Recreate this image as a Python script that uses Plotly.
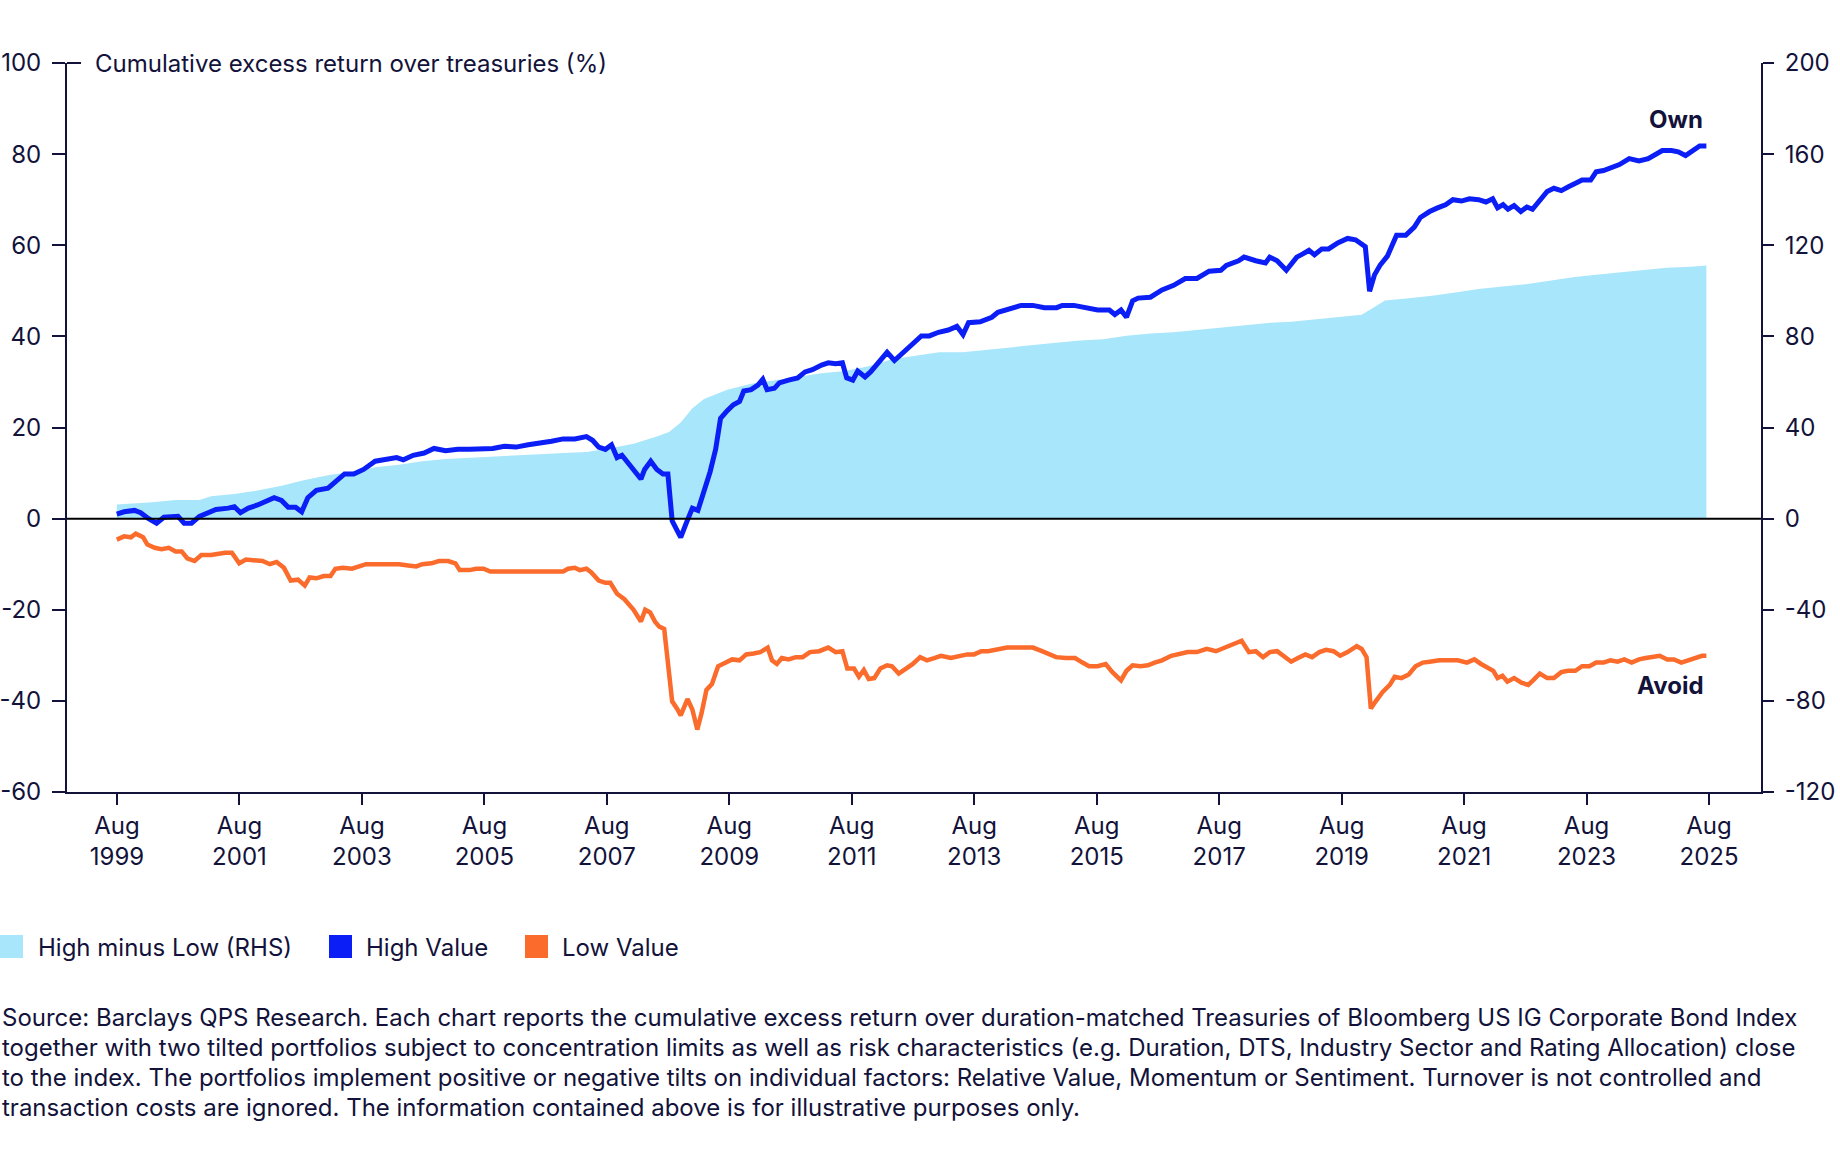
import plotly.graph_objects as go

# ---------------- data (decimal years, % values) ----------------
hv_t = [1999.58,1999.70,1999.87,1999.97,2000.10,2000.23,2000.35,2000.50,2000.58,2000.68,
        2000.80,2000.93,2001.04,2001.20,2001.40,2001.50,2001.60,2001.73,2001.88,2002.04,
        2002.15,2002.27,2002.38,2002.50,2002.60,2002.70,2002.84,2003.03,2003.15,2003.30,
        2003.45,2003.61,2003.80,2004.00,2004.15,2004.26,2004.42,2004.60,2004.76,2004.95,
        2005.15,2005.34,2005.53,2005.72,2005.91,2006.10,2006.30,2006.48,2006.68,2006.87,
        2007.06,2007.25,2007.35,2007.45,2007.56,2007.66,2007.75,2007.83,2008.02,2008.14,
        2008.20,2008.30,2008.40,2008.50,2008.58,2008.65,2008.73,2008.79,2008.88,2008.98,
        2009.07,2009.17,2009.27,2009.36,2009.44,2009.55,2009.65,2009.75,2009.82,2009.94,
        2010.05,2010.13,2010.20,2010.32,2010.40,2010.55,2010.70,2010.82,2010.94,2011.09,
        2011.20,2011.32,2011.43,2011.50,2011.60,2011.68,2011.80,2011.89,2012.05,2012.16,
        2012.28,2012.43,2012.62,2012.72,2012.85,2013.00,2013.16,2013.30,2013.40,2013.49,
        2013.68,2013.87,2013.97,2014.16,2014.35,2014.54,2014.73,2014.93,2015.02,2015.21,
        2015.40,2015.60,2015.79,2015.88,2015.98,2016.07,2016.17,2016.26,2016.46,2016.65,
        2016.84,2017.03,2017.22,2017.42,2017.61,2017.70,2017.90,2017.99,2018.18,2018.34,
        2018.41,2018.53,2018.68,2018.85,2018.95,2019.05,2019.14,2019.26,2019.37,2019.52,
        2019.68,2019.81,2019.97,2020.04,2020.12,2020.21,2020.33,2020.40,2020.48,2020.63,
        2020.77,2020.87,2021.02,2021.15,2021.28,2021.40,2021.54,2021.67,2021.82,2021.94,
        2022.05,2022.13,2022.22,2022.30,2022.40,2022.51,2022.61,2022.70,2022.82,2022.94,
        2023.05,2023.17,2023.28,2023.40,2023.51,2023.65,2023.74,2023.86,2023.97,2024.12,
        2024.28,2024.44,2024.59,2024.70,2024.82,2024.97,2025.08,2025.20,2025.31,2025.43,
        2025.54]
hv_v = [1.0,1.5,1.8,1.3,0.0,-1.0,0.3,0.3,0.5,-1.0,
        -1.0,0.5,1.0,2.0,2.3,2.6,1.3,2.3,3.0,4.0,
        4.6,4.0,2.5,2.5,1.5,4.6,6.2,6.7,8.2,9.8,
        9.8,10.8,12.6,12.9,13.4,12.9,13.9,14.4,15.4,14.9,
        15.2,15.2,15.2,15.4,15.9,15.7,16.2,16.5,17.0,17.5,
        17.5,18.0,17.2,15.7,15.2,16.2,13.4,13.9,10.8,8.7,
        10.8,12.6,10.8,9.8,9.8,-0.5,-2.6,-4.1,-1.0,2.3,
        1.8,6.2,10.3,15.2,22.0,23.7,25.0,25.7,28.0,28.3,
        29.3,30.6,28.3,28.6,29.8,30.4,30.9,32.2,32.7,33.7,
        34.2,34.0,34.2,30.9,30.4,32.4,31.1,32.2,35.0,36.5,
        34.7,36.5,38.6,40.1,40.1,40.9,41.4,42.2,40.4,43.0,
        43.2,44.2,45.3,46.0,46.8,46.8,46.3,46.3,46.8,46.8,
        46.3,45.8,45.8,44.8,45.8,44.2,47.8,48.4,48.6,50.2,
        51.2,52.7,52.7,54.3,54.5,55.6,56.6,57.4,56.6,56.1,
        57.4,56.6,54.5,57.4,58.1,58.9,57.9,59.2,59.2,60.5,
        61.5,61.2,59.7,49.9,53.5,55.6,57.6,59.9,62.2,62.2,
        64.0,66.1,67.4,68.2,68.9,70.0,69.7,70.2,70.0,69.5,
        70.2,68.2,68.9,67.9,68.7,67.4,68.4,67.9,69.7,71.8,
        72.5,72.0,72.8,73.6,74.3,74.3,76.1,76.4,76.9,77.7,
        79.0,78.5,79.0,80.0,80.8,80.8,80.5,79.7,80.8,81.8,
        81.8]

lv_t = [1999.58,1999.70,1999.81,1999.89,2000.01,2000.08,2000.20,2000.31,2000.43,2000.54,
        2000.64,2000.73,2000.85,2000.96,2001.12,2001.23,2001.35,2001.46,2001.58,2001.69,
        2001.85,2001.96,2002.08,2002.19,2002.31,2002.42,2002.54,2002.65,2002.73,2002.84,
        2002.96,2003.07,2003.15,2003.27,2003.42,2003.53,2003.65,2003.80,2003.99,2004.19,
        2004.34,2004.47,2004.57,2004.72,2004.84,2004.99,2005.11,2005.18,2005.34,2005.45,
        2005.57,2005.68,2005.91,2006.29,2006.68,2006.87,2006.95,2007.06,2007.14,2007.25,
        2007.33,2007.45,2007.56,2007.64,2007.75,2007.87,2008.02,2008.14,2008.21,2008.29,
        2008.37,2008.44,2008.52,2008.60,2008.65,2008.73,2008.79,2008.90,2008.98,2009.06,
        2009.13,2009.21,2009.30,2009.40,2009.52,2009.63,2009.75,2009.86,2009.98,2010.09,
        2010.21,2010.28,2010.36,2010.44,2010.55,2010.67,2010.78,2010.90,2011.05,2011.20,
        2011.32,2011.43,2011.51,2011.62,2011.70,2011.78,2011.86,2011.95,2012.05,2012.16,
        2012.24,2012.35,2012.47,2012.58,2012.70,2012.81,2012.93,2013.04,2013.20,2013.35,
        2013.47,2013.58,2013.70,2013.81,2013.97,2014.12,2014.35,2014.54,2014.69,2014.81,
        2014.92,2015.08,2015.23,2015.35,2015.46,2015.60,2015.73,2015.84,2015.98,2016.07,
        2016.17,2016.30,2016.42,2016.53,2016.65,2016.80,2016.94,2017.07,2017.22,2017.38,
        2017.53,2017.68,2017.80,2017.95,2018.07,2018.18,2018.30,2018.41,2018.53,2018.64,
        2018.76,2018.87,2018.99,2019.10,2019.22,2019.33,2019.45,2019.56,2019.68,2019.83,
        2019.91,2019.99,2020.06,2020.14,2020.25,2020.37,2020.45,2020.56,2020.68,2020.79,
        2020.91,2021.02,2021.18,2021.33,2021.48,2021.63,2021.75,2021.86,2021.98,2022.06,
        2022.13,2022.21,2022.29,2022.40,2022.52,2022.63,2022.71,2022.82,2022.94,2023.05,
        2023.17,2023.28,2023.40,2023.51,2023.63,2023.74,2023.86,2023.97,2024.09,2024.20,
        2024.32,2024.44,2024.55,2024.67,2024.78,2024.90,2025.01,2025.13,2025.24,2025.36,
        2025.47,2025.54]
lv_v = [-4.6,-3.9,-4.1,-3.3,-4.1,-5.7,-6.4,-6.7,-6.4,-7.2,
        -7.2,-8.7,-9.3,-8.0,-8.0,-7.7,-7.5,-7.5,-9.8,-9.0,
        -9.3,-9.3,-10.0,-9.5,-10.8,-13.6,-13.4,-14.7,-12.9,-13.1,
        -12.6,-12.6,-11.0,-10.8,-11.0,-10.5,-10.0,-10.0,-10.0,-10.0,
        -10.3,-10.5,-10.0,-9.8,-9.3,-9.3,-9.8,-11.3,-11.3,-11.0,
        -11.0,-11.6,-11.6,-11.6,-11.6,-11.6,-11.0,-10.8,-11.3,-11.0,
        -11.8,-13.6,-14.1,-14.1,-16.5,-17.7,-20.0,-22.6,-20.0,-20.6,
        -22.6,-23.7,-24.2,-35.5,-40.1,-41.7,-43.2,-39.6,-41.9,-46.3,
        -42.7,-37.6,-36.3,-32.4,-31.6,-30.9,-31.1,-29.8,-29.6,-29.3,
        -28.3,-31.1,-31.9,-30.6,-30.9,-30.4,-30.4,-29.3,-29.1,-28.3,
        -29.3,-29.1,-32.9,-32.9,-34.7,-33.2,-35.2,-35.0,-32.9,-32.2,
        -32.4,-34.0,-32.9,-31.9,-30.4,-31.1,-30.6,-30.1,-30.6,-30.1,
        -29.8,-29.8,-29.1,-29.1,-28.6,-28.3,-28.3,-28.3,-29.1,-29.8,
        -30.4,-30.6,-30.6,-31.6,-32.4,-32.4,-31.9,-33.7,-35.5,-33.4,
        -32.2,-32.4,-32.2,-31.6,-31.1,-30.1,-29.8,-29.3,-29.3,-28.6,
        -29.1,-28.3,-27.8,-26.8,-29.3,-29.1,-30.4,-29.3,-29.1,-30.1,
        -31.4,-30.6,-29.8,-30.4,-29.3,-28.8,-29.1,-30.1,-29.3,-28.0,
        -28.6,-30.4,-41.7,-40.1,-38.1,-36.5,-34.7,-35.0,-34.2,-32.4,
        -31.6,-31.4,-31.1,-31.1,-31.1,-31.6,-30.9,-31.9,-32.9,-33.4,
        -35.0,-34.5,-35.8,-35.0,-36.0,-36.5,-35.5,-34.0,-35.0,-35.0,
        -33.7,-33.4,-33.4,-32.4,-32.4,-31.6,-31.6,-31.1,-31.4,-30.9,
        -31.6,-30.9,-30.6,-30.4,-30.1,-30.9,-30.9,-31.6,-31.1,-30.4,
        -30.1,-30.1]

hml_t = [1999.58,2000.16,2000.54,2000.93,2001.12,2001.50,2001.88,2002.27,2002.65,2003.03,
         2003.42,2003.80,2004.19,2004.57,2004.95,2005.34,2005.72,2006.10,2006.49,2006.87,
         2007.25,2007.64,2008.02,2008.40,2008.60,2008.79,2008.98,2009.17,2009.36,2009.55,
         2009.94,2010.32,2010.70,2011.09,2011.47,2011.86,2012.24,2012.62,2013.01,2013.39,
         2013.77,2014.16,2014.54,2014.92,2015.31,2015.69,2016.07,2016.46,2016.84,2017.22,
         2017.61,2017.99,2018.38,2018.76,2019.14,2019.53,2019.91,2020.10,2020.29,2020.68,
         2021.06,2021.44,2021.82,2022.21,2022.59,2022.98,2023.36,2023.74,2024.13,2024.51,
         2024.89,2025.28,2025.54]
hml_v = [6.2,7.2,8.2,8.2,9.8,10.8,12.3,14.4,17.0,19.0,
         20.6,22.6,23.7,25.2,26.2,26.8,27.3,27.8,28.3,28.8,
         29.3,30.9,32.9,36.0,38.0,42.2,48.4,52.5,54.5,56.6,
         59.2,60.7,62.2,63.8,64.8,66.9,70.0,71.5,73.0,73.0,
         74.1,75.1,76.1,77.2,78.2,78.7,80.3,81.3,81.8,82.8,
         83.9,84.9,85.9,86.4,87.5,88.5,89.5,92.6,95.7,96.7,
         97.8,99.3,100.8,101.9,102.9,104.4,106.0,107.0,108.0,109.1,
         110.1,110.6,111.1]

x_tick_years = list(range(1999, 2026, 2))
left_ticks = [-60, -40, -20, 0, 20, 40, 60, 80, 100]
right_ticks = [-120, -80, -40, 0, 40, 80, 120, 160, 200]

legend_labels = ["High minus Low (RHS)", "High Value", "Low Value"]
source_lines = [
    "Source: Barclays QPS Research. Each chart reports the cumulative excess return over duration-matched Treasuries of Bloomberg US IG Corporate Bond Index",
    "together with two tilted portfolios subject to concentration limits as well as risk characteristics (e.g. Duration, DTS, Industry Sector and Rating Allocation) close",
    "to the index. The portfolios implement positive or negative tilts on individual factors: Relative Value, Momentum or Sentiment. Turnover is not controlled and",
    "transaction costs are ignored. The information contained above is for illustrative purposes only.",
]

NAVY = "#12123A"
BLUE = "#0A1EF5"
ORANGE = "#FA6B2C"
AREA = "#A8E6FB"
FONT = "Inter"
FS = 24

fig = go.Figure()
fig.add_trace(go.Scatter(x=hml_t, y=hml_v, mode="lines", line=dict(width=0, color=AREA),
                         fill="tozeroy", fillcolor=AREA, yaxis="y", name=legend_labels[0],
                         showlegend=False))
fig.add_trace(go.Scatter(x=lv_t, y=lv_v, mode="lines", line=dict(width=4.5, color=ORANGE),
                         yaxis="y2", name=legend_labels[2], showlegend=False))
fig.add_trace(go.Scatter(x=hv_t, y=hv_v, mode="lines", line=dict(width=5, color=BLUE),
                         yaxis="y2", name=legend_labels[1], showlegend=False))

tick_font = dict(family=FONT, size=FS, color=NAVY)
fig.update_layout(
    width=1840, height=1170,
    margin=dict(l=67, r=79, t=63, b=378, autoexpand=False),
    paper_bgcolor="white", plot_bgcolor="white",
    font=dict(family=FONT, size=FS, color=NAVY),
    showlegend=False,
    xaxis=dict(range=[1998.767, 2026.432], tickmode="array",
               tickvals=[y + 7/12 for y in x_tick_years],
               ticktext=[f"Aug<br>{y}" for y in x_tick_years],
               ticks="outside", ticklen=11, tickwidth=2, tickcolor=NAVY,
               showline=True, linecolor=NAVY, linewidth=2, showgrid=False,
               zeroline=False, tickfont=tick_font, automargin=False),
    yaxis=dict(side="right", range=[-120, 200], tickmode="array",
               tickvals=right_ticks, ticktext=[str(v) for v in right_ticks],
               ticks="outside", ticklen=11, tickwidth=2, tickcolor=NAVY,
               showline=True, linecolor=NAVY, linewidth=2, showgrid=False,
               zeroline=False, tickfont=tick_font, ticklabelstandoff=6, automargin=False),
    yaxis2=dict(side="left", overlaying="y", range=[-60, 100], tickmode="array",
                tickvals=left_ticks, ticktext=[str(v) for v in left_ticks],
                ticks="outside", ticklen=13, tickwidth=2, tickcolor=NAVY,
                showline=True, linecolor=NAVY, linewidth=2, showgrid=False,
                zeroline=False, tickfont=tick_font, ticklabelstandoff=6, automargin=False),
)

def px_x(p):
    return (p - 67) / 1694

def px_y(p):
    return (792 - p) / 729

shapes = [
    dict(type="line", xref="paper", yref="y2", x0=0, x1=1, y0=0, y1=0,
         line=dict(color="black", width=2), layer="above"),
    dict(type="line", xref="paper", yref="paper", x0=0, x1=px_x(81), y0=1, y1=1,
         line=dict(color=NAVY, width=2)),
]
leg_colors = [AREA, BLUE, ORANGE]
leg_sq_x = [0, 329, 525]
leg_txt_x = [36, 364, 560]
annotations = [
    dict(text="Cumulative excess return over treasuries (%)", xref="paper", yref="paper",
         x=px_x(93), y=1, xanchor="left", yanchor="middle", showarrow=False,
         font=dict(family=FONT, size=FS, color=NAVY)),
    dict(text="<b>Own</b>", xref="paper", yref="paper", x=px_x(1676), y=px_y(120),
         xanchor="center", yanchor="middle", showarrow=False,
         font=dict(family=FONT, size=FS, color=NAVY)),
    dict(text="<b>Avoid</b>", xref="paper", yref="paper", x=px_x(1670), y=px_y(685),
         xanchor="center", yanchor="middle", showarrow=False,
         font=dict(family=FONT, size=FS, color=NAVY)),
]
for c, sx, tx, lab in zip(leg_colors, leg_sq_x, leg_txt_x, legend_labels):
    shapes.append(dict(type="rect", xref="paper", yref="paper",
                       x0=px_x(sx), x1=px_x(sx + 23), y0=px_y(935), y1=px_y(958),
                       fillcolor=c, line=dict(width=0)))
    annotations.append(dict(text=lab, xref="paper", yref="paper", x=px_x(tx), y=px_y(947),
                            xanchor="left", yanchor="middle", showarrow=False,
                            font=dict(family=FONT, size=FS, color=NAVY)))

for i, line in enumerate(source_lines):
    annotations.append(dict(text=line, xref="paper", yref="paper", x=px_x(0),
                            y=px_y(1017 + 30 * i), xanchor="left", yanchor="middle",
                            align="left", showarrow=False,
                            font=dict(family=FONT, size=FS, color=NAVY)))

fig.update_layout(shapes=shapes, annotations=annotations)
fig.write_html("out.html", config={"displayModeBar": False},
               post_script="document.body.style.margin='0';document.body.style.overflow='hidden';")
